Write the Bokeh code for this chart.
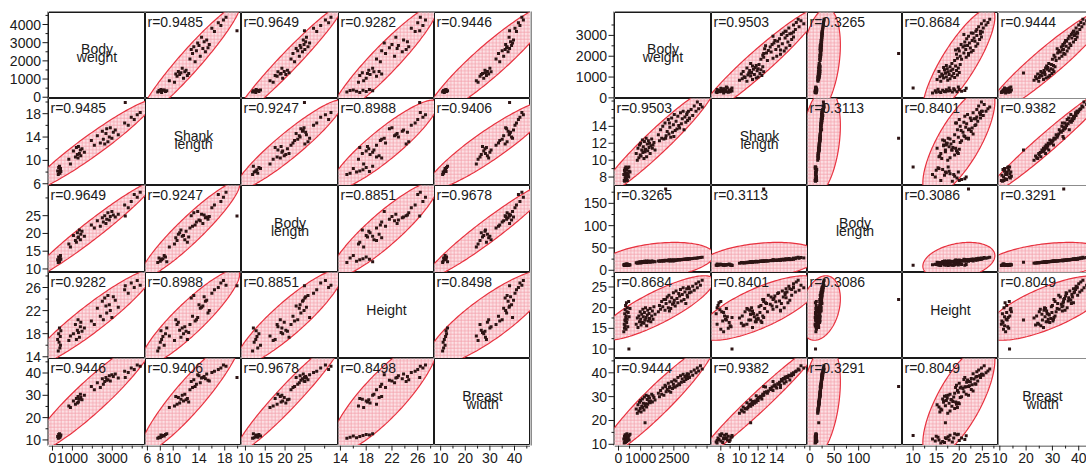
import itertools
import numpy as np
from bokeh.plotting import figure
from bokeh.layouts import row, column
from bokeh.models import Range1d, Label, Span
from bokeh.embed import file_html
from bokeh.resources import INLINE

FONT = "Liberation Sans"
names = [["Body", "weight"], ["Shank", "length"], ["Body", "length"], ["Height"], ["Breast", "width"]]

# ---------------- left data set ----------------
bw_l = [260, 290, 310, 330, 350, 370, 390, 400, 420,
        820, 900, 1050, 1150, 1200, 1250, 1280, 1300, 1350, 1400, 1420, 1480, 1600,
        1950, 2100, 2250, 2400, 2500, 2550, 2620, 2680, 2720, 2780, 2850, 2900, 2980, 3050, 3150, 3300,
        3620, 3800, 3950, 4100, 4250, 4400, 3650]
sl_l = [8.2, 7.6, 8.8, 8.0, 9.0, 7.8, 8.4, 8.6, 8.1,
        10.2, 9.4, 11.6, 10.6, 12.2, 11.0, 10.4, 12.4, 11.2, 11.8, 10.8, 12.0, 11.4,
        13.4, 12.6, 14.2, 13.0, 15.0, 13.6, 12.8, 14.6, 15.4, 13.2, 14.0, 15.6, 13.8, 14.8, 15.2, 14.4,
        16.4, 16.0, 17.4, 17.0, 17.8, 18.2, 19.9]
bl_l = [12.6, 11.8, 13.4, 12.2, 12.0, 13.1, 12.9, 13.8, 12.7,
        17.0, 16.2, 19.4, 18.0, 17.5, 20.2, 18.8, 19.0, 21.0, 18.2, 19.8, 20.6, 19.2,
        22.4, 21.5, 23.6, 22.0, 24.4, 23.2, 25.0, 22.8, 24.0, 25.8, 23.8, 24.8, 26.2, 25.2, 24.6, 25.4,
        28.0, 27.2, 29.0, 31.0, 30.2, 31.6, 24.9]
h_l = [17.0, 15.0, 18.0, 16.5, 19.0, 15.5, 17.5, 16.0, 18.5,
       16.8, 17.6, 18.0, 19.6, 17.0, 18.6, 20.4, 18.2, 17.4, 19.2, 20.0, 18.4, 19.0,
       20.2, 19.6, 22.4, 21.0, 23.6, 20.4, 24.2, 22.8, 21.6, 24.6, 23.0, 22.0, 20.8, 24.4, 23.8, 22.6,
       25.6, 25.0, 26.8, 26.0, 27.2, 26.4, 26.3]
brw_l = [11.5, 10.8, 12.4, 11.0, 12.8, 11.2, 12.0, 11.8, 12.2,
         25.2, 24.5, 27.5, 26.0, 28.6, 26.5, 29.5, 27.0, 28.2, 30.5, 29.0, 28.0, 30.0,
         34.0, 32.5, 35.6, 33.5, 37.4, 35.0, 36.2, 38.0, 36.8, 37.0, 38.8, 36.4, 39.2, 38.4, 39.6, 37.8,
         40.8, 40.2, 42.2, 41.6, 43.6, 43.0, 38.0]

# ---------------- right data set ----------------
bw_r = [240, 260, 270, 280, 290, 300, 300, 310, 320, 330, 340, 350, 360, 370, 380, 390, 400, 420, 440, 460, 480, 520,
        800, 850, 880, 920, 950, 980, 1000, 1020, 1050, 1080, 1100, 1120, 1150, 1170, 1200,
        1220, 1250, 1270, 1300, 1320, 1350, 1380, 1400, 1430, 1460, 1500, 1530, 1560, 1600, 1650,
        1800, 1850, 1900, 1950, 2000, 2050, 2100, 2150, 2200, 2250, 2280, 2320, 2360, 2400, 2440, 2480, 2520, 2560,
        2600, 2640, 2680, 2720, 2760, 2800, 2840, 2880, 2920, 2960, 3000, 3040, 3080, 3120, 3160, 3200, 2500, 2300,
        3100, 3200, 3280, 3350, 3420, 3500, 3560, 3620, 3700, 3780,
        2130, 470, 1200]
sl_r = [8.3, 7.6, 8.8, 7.5, 8.6, 9.0, 7.9, 8.2, 7.7, 9.2, 8.0, 8.4, 7.8, 8.9, 8.1, 8.5, 7.6, 9.1, 8.3, 8.0, 8.7, 8.6,
        10.8, 10.0, 11.4, 10.3, 11.8, 10.6, 12.0, 10.5, 11.2, 12.4, 10.9, 11.6, 10.2, 12.2, 11.0,
        11.3, 12.6, 10.4, 11.9, 11.1, 12.3, 11.5, 12.0, 10.8, 11.7, 12.5, 11.4, 11.8, 12.1, 11.2,
        13.0, 12.3, 13.6, 12.6, 14.0, 12.5, 14.4, 12.9, 13.4, 14.8, 13.1, 13.9, 12.7, 15.0, 13.3, 14.2, 15.4, 13.5,
        14.6, 13.7, 15.2, 14.1, 13.8, 15.6, 14.3, 14.9, 15.8, 13.6, 15.1, 14.5, 15.4, 14.7, 15.8, 14.9, 12.8, 14.4,
        15.6, 15.0, 16.0, 15.3, 16.4, 15.8, 16.9, 16.1, 16.6, 16.3,
        12.6, 9.2, 11.2]
bl_r = [12.2, 10.6, 13.0, 11.4, 12.6, 11.0, 13.5, 11.8, 12.9, 10.8, 13.3, 12.0, 11.2, 14.0, 12.4, 11.6, 13.8, 12.3, 11.5, 13.1, 12.7, 12.0,
        16.6, 16.0, 17.8, 16.4, 18.6, 17.0, 19.2, 16.2, 18.0, 19.8, 17.4, 18.4, 17.2, 20.2, 18.1,
        18.9, 20.5, 17.5, 19.5, 18.7, 20.8, 19.0, 19.3, 17.7, 19.6, 21.0, 18.3, 20.0, 19.9, 18.9,
        20.8, 20.0, 21.5, 20.4, 22.0, 20.2, 22.6, 21.2, 21.8, 23.0, 21.0, 22.3, 20.6, 23.5, 21.6, 22.4, 23.8, 22.1,
        23.2, 22.7, 24.1, 23.3, 22.9, 24.4, 23.6, 24.2, 24.8, 23.9, 25.0, 24.5, 25.3, 24.7, 25.6, 25.0, 21.0, 22.8,
        25.0, 25.6, 26.0, 26.4, 26.8, 27.2, 27.6, 28.0, 28.6, 29.2,
        182.0, 11.5, 18.0]
h_r = [14.2, 16.0, 15.0, 18.5, 17.0, 15.6, 19.5, 16.8, 20.5, 17.6, 14.8, 18.0, 21.2, 16.4, 19.0, 17.2, 20.0, 15.4, 18.8, 21.5, 17.8, 19.8,
       16.0, 17.5, 15.2, 18.0, 16.6, 19.0, 17.2, 15.8, 18.4, 16.4, 19.6, 17.8, 16.2, 18.8, 17.0,
       20.0, 17.6, 15.6, 18.2, 19.4, 16.8, 18.6, 17.4, 19.8, 16.6, 18.0, 19.2, 17.2, 20.2, 18.4,
       19.0, 20.5, 19.6, 21.5, 20.2, 22.0, 19.4, 21.0, 22.6, 20.0, 23.0, 21.4, 19.8, 22.4, 20.8, 23.6, 21.8, 20.4,
       24.0, 22.2, 21.2, 23.4, 22.8, 24.4, 21.6, 23.2, 24.8, 22.0, 23.8, 21.0, 24.6, 22.6, 25.0, 23.6, 21.2, 19.2,
       23.0, 24.6, 23.8, 25.2, 24.2, 25.8, 24.8, 26.2, 25.4, 26.6,
       22.0, 10.0, 17.0]
brw_r = [12.2, 10.6, 13.4, 11.0, 12.8, 11.8, 14.0, 10.8, 12.6, 13.2, 11.4, 13.8, 12.0, 11.2, 14.4, 12.4, 11.6, 13.0, 12.6, 13.6, 11.8, 14.2,
         24.8, 23.0, 26.6, 24.0, 27.6, 25.0, 28.4, 23.6, 26.0, 29.0, 25.4, 27.2, 24.4, 29.8, 26.2,
         27.0, 30.6, 25.6, 28.8, 26.8, 30.2, 28.0, 29.4, 27.4, 28.2, 31.0, 27.8, 30.4, 29.6, 28.6,
         31.4, 30.0, 32.6, 31.0, 33.6, 30.6, 34.8, 32.0, 33.0, 35.6, 32.4, 34.2, 31.8, 36.2, 33.4, 35.2, 37.0, 34.0,
         36.6, 34.6, 38.0, 35.4, 35.0, 38.8, 36.0, 37.4, 39.4, 36.4, 38.4, 37.2, 38.8, 37.6, 39.4, 38.2, 34.0, 33.8,
         39.6, 38.0, 40.4, 39.0, 41.2, 40.0, 42.0, 40.8, 43.0, 41.6,
         34.3, 13.7, 19.0]

# correlations as printed, pair order (0,1),(0,2),(0,3),(0,4),(1,2),(1,3),(1,4),(2,3),(2,4),(3,4)
r_left = [0.9485, 0.9649, 0.9282, 0.9446, 0.9247, 0.8988, 0.9406, 0.8851, 0.9678, 0.8498]
r_right = [0.9503, 0.3265, 0.8684, 0.9444, 0.3113, 0.8401, 0.9382, 0.3086, 0.3291, 0.8049]

# axis ranges (x may differ from y) and ticks
yrng_l = [(-70, 4660), (5.7, 20.6), (9, 33.5), (13.7, 28.6), (7.5, 46.5)]
xrng_l = [(-200, 4665), (5.7, 20.6), (9, 33.5), (13.7, 28.6), (7.5, 46.5)]
yrng_r = [(-30, 4100), (7.0, 17.3), (-5, 190), (7.7, 28.5), (9.5, 46)]
xrng_r = [(-180, 4200), (7.0, 17.3), (-5, 190), (7.7, 28.5), (9.5, 46)]

ymaj_l = [[0, 1000, 2000, 3000, 4000], [6, 10, 14, 18], [10, 15, 20, 25], [14, 18, 22, 26], [10, 20, 30, 40]]
ymin_l = [[500, 1500, 2500, 3500, 4500], [8, 12, 16, 20], [30], [16, 20, 24, 28], [15, 25, 35, 45]]
xmaj_l = [[0, 1000, 3000], [6, 8, 10, 14, 18], [10, 15, 20, 25], [14, 18, 22, 26], [10, 20, 30, 40]]
xmin_l = [[500, 1500, 2000, 2500, 3500, 4000, 4500], [12, 16, 20], [30], [16, 20, 24, 28], [15, 25, 35, 45]]

ymaj_r = [[0, 1000, 2000, 3000], [8, 10, 12, 14], [0, 50, 100, 150], [10, 15, 20, 25], [10, 20, 30, 40]]
ymin_r = [[500, 1500, 2500, 3500], [9, 11, 13, 15, 16, 17], [25, 75, 125, 175], [12.5, 17.5, 22.5, 27.5], [15, 25, 35, 45]]
xmaj_r = [[0, 1000, 2500], [8, 10, 12, 14], [0, 50, 100], [10, 15, 20, 25], [10, 20, 30, 40]]
xmin_r = [[500, 1500, 2000, 3000, 3500, 4000], [9, 11, 13, 15, 16, 17], [25, 75, 125, 150, 175], [12.5, 17.5, 22.5, 27.5], [15, 25, 35, 45]]

# layout (pixels)
col_w_l = [97, 96, 97, 96, 96]
col_w_r = [97, 96, 95, 96, 88]
FULL_W = 96
row_h = [86, 87, 87, 86, 87]
TOP, BOTTOM, LEFT_L, LEFT_R = 12, 23, 48, 84
PAGE_H = TOP + sum(row_h) + BOTTOM
# vertical pixel shifts (up = positive) of the diagonal name lines from the cell centre
NAME_UP_ONE = [6.0]
NAME_UP_TWO = [6.2, -1.8]

pairs = list(itertools.combinations(range(5), 2))

BORDER = "#1a1a1a"
TXT = "#1a1a1a"
ELL_LINE = "#e8323f"
ELL_FILL = "#fce1e5"
HATCH = "#f4a3ad"
DOT = "#2d1414"


def fig(w, h, **kw):
    p = figure(width=w, height=h, toolbar_location=None, output_backend="svg",
               x_axis_location=None, y_axis_location=None, min_border=0,
               background_fill_color="white", border_fill_color="white", **kw)
    p.grid.visible = False
    p.outline_line_color = None
    return p


def fmt(v):
    return str(int(v)) if float(v).is_integer() else str(v)


def ellipse(x, y, n=160):
    x = np.asarray(x, float)
    y = np.asarray(y, float)
    L = np.linalg.cholesky(np.cov(x, y))
    t = np.linspace(0, 2 * np.pi, n)
    pts = L @ np.vstack([np.cos(t), np.sin(t)]) * np.sqrt(5.991)
    return x.mean() + pts[0], y.mean() + pts[1]


def y_axis_fig(W, rng, ymaj, ymin, line_left=False):
    extra = {}
    for i in range(5):
        t = TOP + sum(row_h[:i])
        b = t + row_h[i]
        v0, v1 = rng[i]
        s = (v1 - v0) / (b - t)
        extra["r%d" % i] = Range1d(v0 - (PAGE_H - b) * s, v1 + t * s)
    p = fig(W, PAGE_H, x_range=Range1d(0, W), y_range=Range1d(0, PAGE_H), extra_y_ranges=extra)
    ytop, ybot = PAGE_H - TOP + 1, PAGE_H - TOP - sum(row_h)
    p.segment(x0=[W - 0.5], y0=[ybot], x1=[W - 0.5], y1=[ytop], line_color=BORDER, line_width=1)
    if line_left:
        p.segment(x0=[0.5], y0=[ybot], x1=[0.5], y1=[ytop], line_color=BORDER, line_width=1)
    for i in range(5):
        nm = "r%d" % i
        p.segment(x0=[W - 6] * len(ymaj[i]), y0=ymaj[i], x1=[W] * len(ymaj[i]), y1=ymaj[i],
                  y_range_name=nm, line_color=BORDER, line_width=1)
        p.segment(x0=[W - 3] * len(ymin[i]), y0=ymin[i], x1=[W] * len(ymin[i]), y1=ymin[i],
                  y_range_name=nm, line_color=BORDER, line_width=1)
        for v in ymaj[i]:
            p.add_layout(Label(x=W - 7.5, y=v, y_range_name=nm, text=fmt(v),
                               text_align="right", text_baseline="middle",
                               text_font=FONT, text_font_size="14px", text_color=TXT))
    return p


def x_axis_fig(col_w, xrng_vis, xmaj, xmin):
    Wt = sum(col_w)
    extra = {}
    for j in range(5):
        a = sum(col_w[:j])
        b = a + col_w[j]
        v0, v1 = xrng_vis[j]
        s = (v1 - v0) / (b - a)
        extra["c%d" % j] = Range1d(v0 - a * s, v1 + (Wt - b) * s)
    p = fig(Wt, BOTTOM, x_range=Range1d(0, Wt), y_range=Range1d(0, BOTTOM), extra_x_ranges=extra)
    p.segment(x0=[0], y0=[BOTTOM - 0.5], x1=[Wt], y1=[BOTTOM - 0.5], line_color=BORDER, line_width=1)
    for j in range(5):
        nm = "c%d" % j
        p.segment(x0=xmaj[j], y0=[BOTTOM] * len(xmaj[j]), x1=xmaj[j], y1=[BOTTOM - 5] * len(xmaj[j]),
                  x_range_name=nm, line_color=BORDER, line_width=1)
        p.segment(x0=xmin[j], y0=[BOTTOM] * len(xmin[j]), x1=xmin[j], y1=[BOTTOM - 3] * len(xmin[j]),
                  x_range_name=nm, line_color=BORDER, line_width=1)
        for v in xmaj[j]:
            p.add_layout(Label(x=v, y=BOTTOM - 7, x_range_name=nm, text=fmt(v),
                               text_align="center", text_baseline="top",
                               text_font=FONT, text_font_size="14px", text_color=TXT))
    return p


def top_fig(Wt):
    p = fig(Wt, TOP, x_range=Range1d(0, Wt), y_range=Range1d(0, TOP))
    p.segment(x0=[0], y0=[0.5], x1=[Wt], y1=[0.5], line_color=BORDER, line_width=1)
    return p


def make_matrix(data, yrng, xrng, ymaj, ymin, xmaj, xmin, rvals, col_w, left_w, clip_last, line_left):
    xvis = []
    for j in range(5):
        x0, x1 = xrng[j]
        if clip_last and j == 4:
            x1 = x0 + (x1 - x0) * col_w[j] / FULL_W
        xvis.append((x0, x1))
    rows = []
    for i in range(5):
        cells = []
        for j in range(5):
            fw, fh = col_w[j], row_h[i]
            x0, x1 = xvis[j]
            y0, y1 = yrng[i]
            p = fig(fw, fh, x_range=Range1d(x0, x1), y_range=Range1d(y0, y1))
            if clip_last and j == 4:
                for loc, dim in ((y0, "width"), (y1, "width"), (x0, "height")):
                    p.add_layout(Span(location=loc, dimension=dim, line_color=BORDER, line_width=1))
            else:
                p.outline_line_color = BORDER
                p.outline_line_width = 1
            if i == j:
                words = names[i]
                cx, cy = (x0 + x1) / 2, (y0 + y1) / 2
                per_px = (y1 - y0) / fh
                ups = NAME_UP_ONE if len(words) == 1 else NAME_UP_TWO
                for w, up in zip(words, ups):
                    p.add_layout(Label(x=cx, y=cy + up * per_px, text=w,
                                       text_align="center", text_baseline="middle",
                                       text_font=FONT, text_font_size="14px", text_color=TXT))
            else:
                ex, ey = ellipse(data[j], data[i])
                p.patch(ex, ey, fill_color=ELL_FILL, line_color=ELL_LINE, line_width=1.2,
                        hatch_pattern="+", hatch_color=HATCH, hatch_scale=3.5, hatch_weight=0.8)
                p.scatter(data[j], data[i], marker="square", size=3,
                          fill_color=DOT, line_color=None)
                k = pairs.index((min(i, j), max(i, j)))
                p.add_layout(Label(x=x0, y=y1, text="r=%.4f" % rvals[k],
                                   x_offset=2, y_offset=-1,
                                   text_align="left", text_baseline="top",
                                   text_font=FONT, text_font_size="14px", text_color=TXT))
            cells.append(p)
        rows.append(row(*cells))
    ya = y_axis_fig(left_w, yrng, ymaj, ymin, line_left)
    xa = x_axis_fig(col_w, xvis, xmaj, xmin)
    tp = top_fig(sum(col_w))
    return row(ya, column(tp, *rows, xa))


left = make_matrix([bw_l, sl_l, bl_l, h_l, brw_l], yrng_l, xrng_l, ymaj_l, ymin_l, xmaj_l, xmin_l,
                   r_left, col_w_l, LEFT_L, False, False)
right = make_matrix([bw_r, sl_r, bl_r, h_r, brw_r], yrng_r, xrng_r, ymaj_r, ymin_r, xmaj_r, xmin_r,
                    r_right, col_w_r, LEFT_R, True, True)

page = row(left, right)
open("out.html", "w").write(file_html(page, INLINE))
